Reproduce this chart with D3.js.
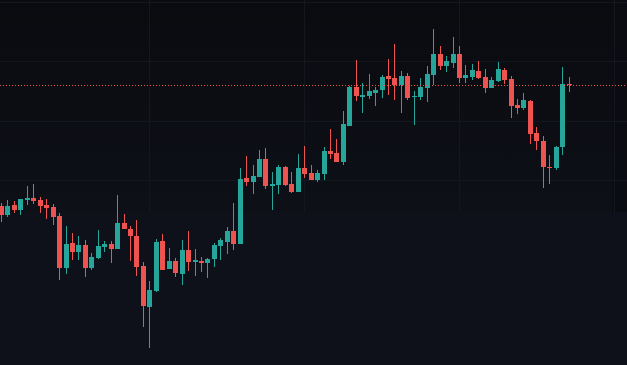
<!DOCTYPE html>
<html>
<head>
<meta charset="utf-8">
<script src="https://cdn.jsdelivr.net/npm/d3@7"></script>
<style>
html,body{margin:0;padding:0;background:#0e111a;overflow:hidden;}
svg{display:block;}
</style>
</head>
<body>
<svg id="chart" width="627" height="365"></svg>
<script>
const openP  = [194,185,195,190,200,202.3,200,195,193,184,132,157,148,155,132,142,153,156,151,177,171,164,134,93,109,159,131,139,126,150,138,139,137,141,154,158,169,156,222,218,223,241,214,215,233,216,208,232,227,220,226,249,247,238,274,313,303,304,307,310,324,322,315,324,303,303,312,325,346,334,337,346,322,323,329,323,312,319,330,321,295,292,299,267,259,233,232,253,315.7];
const highP  = [196.7,200,199,201,214,216,203,201,196,187,174,167,164,160,147,170,159,159,205,186,174,180,138,119,161,166,152,142,160,169,151,143,142,157,162,173,197,232,244,235,250,252,228,235,234,228,246,254,235,230,253,271,261,289,313.5,340,317,326,313,325,341,356,329,327,309,322,334,371,354,344,363,354,335,336,339,331,323,338,332,324,301,307,300,273,264,245,254,333,323];
const lowP   = [178,183,187,185,195,196,187,181,175,120,126,140,140,123,130,141,148,137,151,171,139,124,73,52,108,130,131,123,115,129,124,128,122,133,140,146,150,156,214,206,223,211,190,206,214,207,208,222,220,218,220,241,238,235,273.5,299,287,301,294,302,305,300,287,300,275,300,298,315,330,328,332,317,317,320,321,307,312,318,316,282,286,290,256,250,212,216,230,245,308];
const closeP = [185,194,190,201,202.3,199,194,192,183,132,156,148,155,132,143,154,156,151,177,171,164,133,94,110,158,130,139,127,150,138,140,137,141,155,160,169,156,221,218,224,241,214,216,233,215,208,232,226,220,227,249,246,238,276,313,304,305,309,310,323,321,315,324,302,304,313,326,346,334,339,346,322,325,330,322,312,320,331,320,294,292,300,266,259,233,232,253,316,314.7];
const priceGrid = [398.5, 339, 279.5, 220, 160.5, 101, 41.5];
const timeGrid  = [23, 47, 71, 95];

const W = 627, H = 365, shadeH = 212;
const svg = d3.select("#chart");
const defs = svg.append("defs");
const grad = defs.append("linearGradient").attr("id","bg").attr("x1",0).attr("y1",0).attr("x2",0).attr("y2",1);
grad.append("stop").attr("offset","0%").attr("stop-color","#0a0b0f");
grad.append("stop").attr("offset","100%").attr("stop-color","#0d1017");
defs.append("clipPath").attr("id","topclip").append("rect").attr("width",W).attr("height",shadeH);

svg.append("rect").attr("width",W).attr("height",H).attr("fill","#0e111a");
svg.append("rect").attr("width",612).attr("height",shadeH).attr("fill","url(#bg)");
svg.append("rect").attr("x",612).attr("width",W-612).attr("height",shadeH).attr("fill","#0b0c11");

const n = openP.length;
const x = d3.scaleLinear().domain([0, n - 1]).range([1.5, 1.5 + (n - 1) * 6.45]);
const y = d3.scaleLinear().domain([35, 400]).range([H, 0]);

const grid = svg.append("g").attr("clip-path","url(#topclip)")
  .attr("stroke","#15171e").attr("stroke-width",1).attr("shape-rendering","crispEdges");
grid.selectAll("line.h").data(priceGrid).join("line")
  .attr("x1",0).attr("x2",W)
  .attr("y1",d=>Math.round(y(d))+0.5).attr("y2",d=>Math.round(y(d))+0.5);
grid.selectAll("line.v").data(timeGrid).join("line")
  .attr("y1",0).attr("y2",H)
  .attr("x1",d=>Math.floor(x(d))+0.5).attr("x2",d=>Math.floor(x(d))+0.5);

const data = d3.range(n).map(i => ({i, o:openP[i], h:highP[i], l:lowP[i], c:closeP[i]}));
const up = "#26a69a", down = "#ef5350";
const col = d => d.c >= d.o ? up : down;

const g = svg.append("g").attr("shape-rendering","crispEdges");
g.selectAll("rect.wick").data(data).join("rect")
  .attr("x", d => Math.floor(x(d.i)))
  .attr("width", 1)
  .attr("y", d => Math.round(y(d.h)))
  .attr("height", d => Math.max(1, Math.round(y(d.l)) - Math.round(y(d.h))))
  .attr("fill", col);
g.selectAll("rect.body").data(data).join("rect")
  .attr("x", d => Math.floor(x(d.i)) - 2)
  .attr("width", 5)
  .attr("y", d => Math.round(y(Math.max(d.o, d.c))))
  .attr("height", d => Math.max(1, Math.round(y(Math.min(d.o, d.c))) - Math.round(y(Math.max(d.o, d.c)))))
  .attr("fill", col);

const last = data[n - 1];
svg.append("line")
  .attr("x1",0).attr("x2",W)
  .attr("y1",Math.round(y(last.c))+0.5).attr("y2",Math.round(y(last.c))+0.5)
  .attr("stroke", col(last)).attr("stroke-width",1).attr("stroke-dasharray","1,2")
  .attr("shape-rendering","crispEdges");
</script>
</body>
</html>
